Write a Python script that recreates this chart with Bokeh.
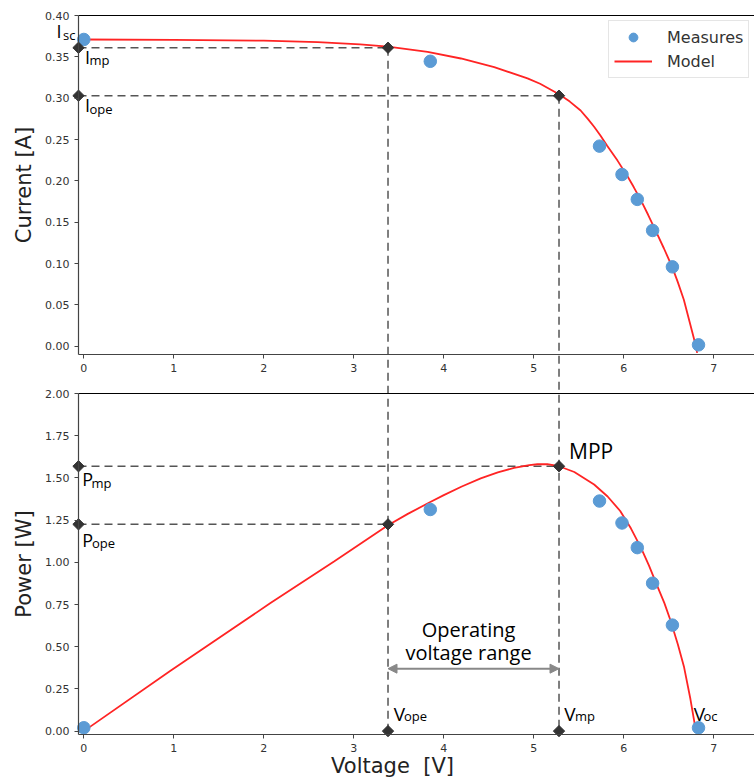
import numpy as np
from bokeh.plotting import figure
from bokeh.models import (Range1d, FixedTicker, PrintfTickFormatter, LinearAxis,
                          Label, Arrow, NormalHead, Legend, LegendItem)
from bokeh.embed import file_html
from bokeh.resources import INLINE

# ---------------- data ----------------
meas_v = [0.0, 3.85, 5.73, 5.98, 6.15, 6.32, 6.54, 6.83]
meas_i = [0.371, 0.3446, 0.242, 0.2077, 0.1776, 0.140, 0.096, 0.0017]
meas_p = [0.02, 1.313, 1.363, 1.233, 1.087, 0.876, 0.628, 0.02]

model_iv_v = [0.0, 1.0, 2.0, 2.6, 3.07, 3.38, 3.82, 4.19, 4.56, 4.93, 5.07, 5.285,
              5.40, 5.52, 5.60, 5.67, 5.74, 5.815, 5.93, 6.044, 6.11, 6.185, 6.27,
              6.352, 6.445, 6.537, 6.60, 6.667, 6.73, 6.797, 6.815]
model_iv_i = [0.371, 0.3706, 0.3695, 0.3678, 0.3650, 0.3623, 0.3560, 0.3480, 0.3375,
              0.3240, 0.3175, 0.3045, 0.2959, 0.2851, 0.2750, 0.2655, 0.2548, 0.2425,
              0.2245, 0.2049, 0.1925, 0.1776, 0.1590, 0.1402, 0.1185, 0.096, 0.0775,
              0.0563, 0.0300, 0.0017, -0.008]

model_pv_v = [0.0, 0.963, 2.07, 2.78, 3.38, 3.6, 3.85, 4.0, 4.2, 4.41, 4.6, 4.78, 4.95,
              5.04, 5.15, 5.28, 5.45, 5.67, 5.82, 5.96, 6.08, 6.19, 6.28, 6.37, 6.45,
              6.52, 6.60, 6.67, 6.74, 6.80]
model_pv_p = [0.0, 0.357, 0.757, 1.005, 1.219, 1.287, 1.357, 1.398, 1.449, 1.497, 1.533,
              1.559, 1.576, 1.581, 1.582, 1.569, 1.535, 1.461, 1.390, 1.304, 1.200,
              1.087, 0.980, 0.862, 0.760, 0.654, 0.515, 0.378, 0.190, 0.004]

v_ope, v_mp, v_oc = 3.38, 5.28, 6.80
i_sc = 0.371
i_mp, i_ope = 0.361, 0.303      # as labelled in the reference
p_mp, p_ope = 1.569, 1.225

x_ticks = [0, 1, 2, 3, 4, 5, 6, 7]
i_ticks = [0.0, 0.05, 0.10, 0.15, 0.20, 0.25, 0.30, 0.35, 0.40]
p_ticks = [0.0, 0.25, 0.50, 0.75, 1.00, 1.25, 1.50, 1.75, 2.00]

# ---------------- layout (one frame holding both panels) ----------------
W, H = 754, 780
X0, PX_X0, PX_PER_V = -0.059, 78, 90.0          # left spine
I0, I1, PY_I0, PY_I1 = -0.01, 0.40, 354, 15     # current panel
P0, P1, PY_P0, PY_P1 = -0.02, 2.0, 734, 393     # power panel
LBL = 8                                          # label baseline correction (px)

x_start = X0 - PX_X0 / PX_PER_V
x_end = X0 + (W - PX_X0) / PX_PER_V
px_i = (PY_I0 - PY_I1) / (I1 - I0)
px_p = (PY_P0 - PY_P1) / (P1 - P0)
cur_range = Range1d(I0 - (H - PY_I0) / px_i, I1 + PY_I1 / px_i)
pow_range = Range1d(P0 - (H - PY_P0) / px_p, P1 + PY_P1 / px_p)


def current_to_power(i):
    page_y = PY_I1 + (I1 - i) * px_i
    return P0 + (PY_P0 - page_y) / px_p


DASH_COLOR = "#555555"
DASH = "8 5"
RED = "#ff2424"
BLUE = "#5b9bd5"
DIAM = "#333333"
AX = "#444444"
TXT_FONT = "Open Sans"

p = figure(width=W, height=H, x_range=Range1d(x_start, x_end), y_range=pow_range,
           output_backend="svg", toolbar_location=None, title=None,
           x_axis_location=None, y_axis_location=None,
           min_border_left=0, min_border_right=0, min_border_top=0, min_border_bottom=0)
p.extra_y_ranges = {"current": cur_range}
p.grid.visible = False
p.outline_line_color = None
p.background_fill_color = "white"
p.border_fill_color = "white"


def style_axis(ax):
    ax.axis_line_color = AX
    ax.axis_line_width = 1.2
    ax.major_tick_line_color = AX
    ax.major_tick_out = 4
    ax.major_tick_in = 0
    ax.minor_tick_line_color = None
    ax.major_label_text_font = "DejaVu Sans"
    ax.major_label_text_font_size = "11px"
    ax.major_label_text_color = "#333333"
    ax.major_label_standoff = 5
    ax.axis_label_text_font = "DejaVu Sans"
    ax.axis_label_text_font_size = "21px"
    ax.axis_label_text_font_style = "normal"
    ax.axis_label_text_color = "#222222"
    ax.axis_label_standoff = 6
    return ax


# y axes
ax_i = style_axis(LinearAxis(y_range_name="current", fixed_location=X0, bounds=(I0, I1),
                             ticker=FixedTicker(ticks=i_ticks),
                             formatter=PrintfTickFormatter(format="%.2f"),
                             axis_label="Current [A]"))
ax_p = style_axis(LinearAxis(fixed_location=X0, bounds=(P0, P1),
                             ticker=FixedTicker(ticks=p_ticks),
                             formatter=PrintfTickFormatter(format="%.2f"),
                             axis_label="Power [W]"))
p.add_layout(ax_i, "left")
p.add_layout(ax_p, "left")

# x axes
ax_x1 = style_axis(LinearAxis(y_range_name="current", fixed_location=I0,
                              bounds=(X0, x_end), ticker=FixedTicker(ticks=x_ticks)))
ax_x2 = style_axis(LinearAxis(fixed_location=P0, bounds=(X0, x_end),
                              ticker=FixedTicker(ticks=x_ticks)))
p.add_layout(ax_x1, "below")
p.add_layout(ax_x2, "below")

# top spines
for rng, loc in (("current", I1), ("default", P1)):
    sp = LinearAxis(y_range_name=rng, fixed_location=loc, bounds=(X0, x_end),
                    ticker=FixedTicker(ticks=[]), major_label_text_font_size="0px",
                    axis_line_color="black", axis_line_width=1.2,
                    major_tick_line_color=None, minor_tick_line_color=None)
    p.add_layout(sp, "above")

# ---------------- dashed guide lines ----------------
p.segment(x0=[X0, X0], y0=[i_mp, i_ope], x1=[v_ope, v_mp], y1=[i_mp, i_ope],
          y_range_name="current", line_color=DASH_COLOR, line_width=1.5, line_dash=DASH)
p.segment(x0=[X0, X0], y0=[p_mp, p_ope], x1=[v_mp, v_ope], y1=[p_mp, p_ope],
          line_color=DASH_COLOR, line_width=1.5, line_dash=DASH)
p.segment(x0=[v_ope, v_mp], y0=[current_to_power(i_mp), current_to_power(i_ope)],
          x1=[v_ope, v_mp], y1=[P0, P0],
          line_color=DASH_COLOR, line_width=1.5, line_dash=DASH)

# ---------------- top panel: I-V ----------------
r_model = p.line(model_iv_v, model_iv_i, y_range_name="current", line_color=RED,
                 line_width=1.8)
r_meas = p.scatter(meas_v, meas_i, y_range_name="current", size=12.5,
                   fill_color=BLUE, line_color=BLUE)
p.scatter([X0, X0, v_ope, v_mp], [i_mp, i_ope, i_mp, i_ope], y_range_name="current",
          marker="square", angle=np.pi / 4, size=8, fill_color=DIAM, line_color=DIAM)

# ---------------- bottom panel: P-V ----------------
p.line(model_pv_v, model_pv_p, line_color=RED, line_width=1.8)
p.scatter(meas_v, meas_p, size=12.5, fill_color=BLUE, line_color=BLUE)
p.scatter([X0, X0, v_ope, v_mp, v_ope, v_mp], [p_mp, p_ope, p_ope, p_mp, 0.0, 0.0],
          marker="square", angle=np.pi / 4, size=8, fill_color=DIAM, line_color=DIAM)


def label(x, y, text, dx, dy, size, rng="default", align="left", font=TXT_FONT,
          color="black"):
    p.add_layout(Label(x=x, y=y, x_offset=dx, y_offset=dy + LBL, text=text,
                       y_range_name=rng, text_font=font, text_font_size=size,
                       text_align=align, text_baseline="alphabetic", text_color=color))


def sub_label(x, y, main, sub, mdx, mdy, sdx, sdy, rng="default",
              msize="18px", ssize="13px"):
    label(x, y, main, mdx, mdy, msize, rng)
    label(x, y, sub, sdx, sdy, ssize, rng)


sub_label(X0, i_sc, "I", "sc", -22, 0, -15.5, -3.5, rng="current")
sub_label(X0, i_mp, "I", "mp", 6.5, -17.3, 11, -20.6, rng="current")
sub_label(X0, i_ope, "I", "ope", 6.5, -17.3, 11, -21, rng="current")
sub_label(X0, p_mp, "P", "mp", 3.7, -21, 13, -25)
sub_label(X0, p_ope, "P", "ope", 3.7, -23.4, 13.5, -27)
sub_label(v_ope, 0.0, "V", "ope", 5.7, 9, 16, 7.4, msize="19px")
sub_label(v_mp, 0.0, "V", "mp", 5.3, 9, 16, 7.4, msize="19px")
sub_label(v_oc, 0.0, "V", "oc", -2, 9, 7.7, 7.4, msize="19px")

label(v_mp, p_mp, "MPP", 10, 7, "21px")
mid_v = (v_ope + v_mp) / 2
label(mid_v, 0.0, "Operating", -5, 94, "20px", align="center")
label(mid_v, 0.0, "voltage range", -5, 70.7, "20px", align="center")
arrow_y = 0.37
p.add_layout(Arrow(x_start=v_ope, y_start=arrow_y, x_end=v_mp, y_end=arrow_y,
                   line_color="#888888", line_width=2,
                   start=NormalHead(size=9, fill_color="#888888", line_color="#888888"),
                   end=NormalHead(size=9, fill_color="#888888", line_color="#888888")))

label(3.43, P0, "Voltage\u00a0\u00a0[V]", 0, -39, "21px", align="center",
      font="DejaVu Sans", color="#222222")

legend = Legend(items=[LegendItem(label="Measures", renderers=[r_meas]),
                       LegendItem(label="Model", renderers=[r_model])],
                location=(608, H - 78), glyph_width=38, glyph_height=22,
                label_height=22, label_standoff=15, spacing=2, padding=5,
                label_text_font="DejaVu Sans", label_text_font_size="16px",
                label_text_color="#333333", border_line_color="#cccccc",
                border_line_width=1, background_fill_alpha=0.85)
p.add_layout(legend)

open("out.html", "w").write(file_html(p, INLINE))
